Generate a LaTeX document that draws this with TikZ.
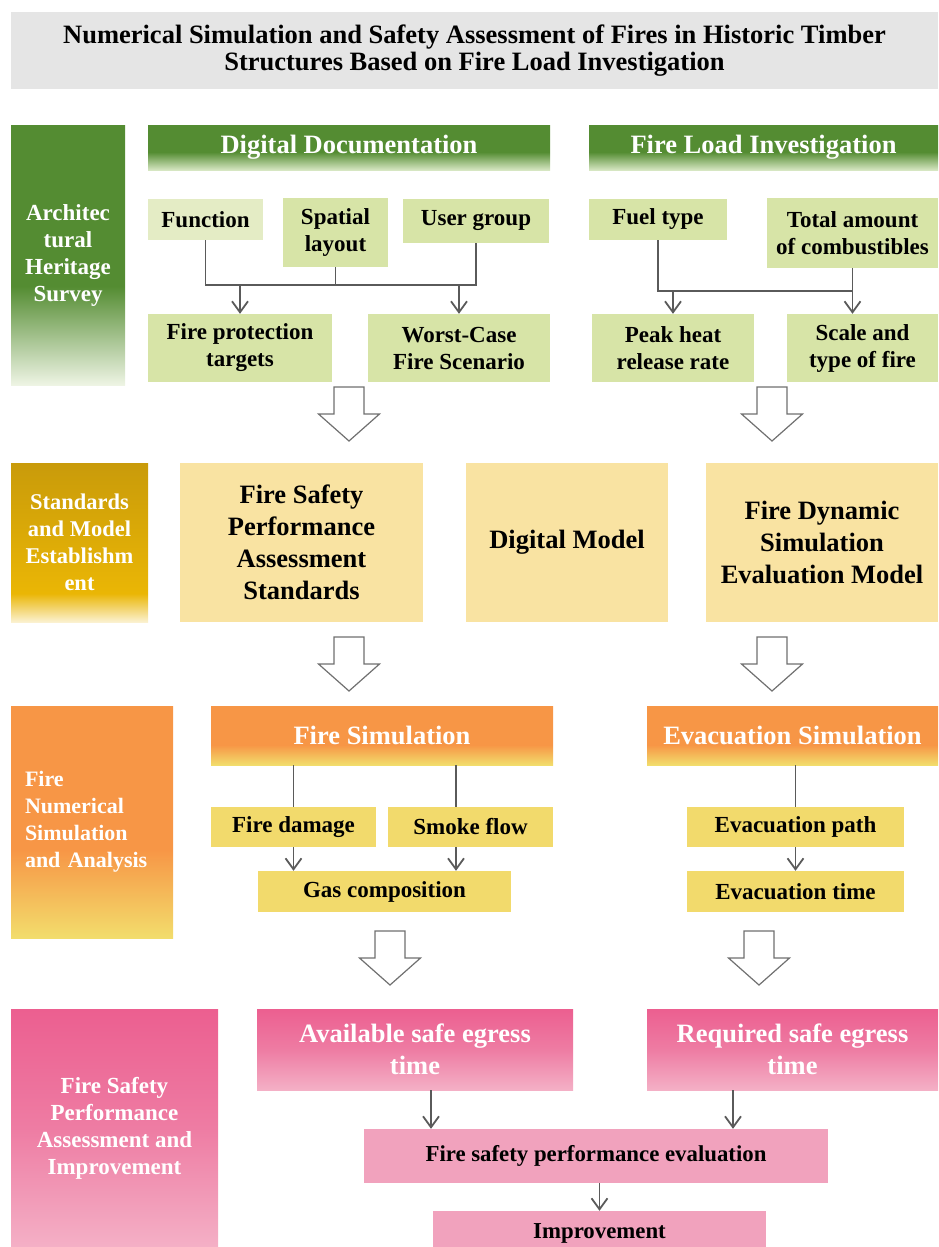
\documentclass[tikz,border=0pt]{standalone}
\usepackage{fontspec}
\setmainfont{Liberation Serif}
\usetikzlibrary{arrows.meta}
\definecolor{titlegray}{HTML}{E5E5E5}
\definecolor{gdark}{HTML}{548C32}
\definecolor{glow}{HTML}{EEF4E4}
\definecolor{gbarlow}{HTML}{D6E6C2}
\definecolor{gbox}{HTML}{D7E4A7}
\definecolor{gboxlight}{HTML}{E4ECC5}
\definecolor{golddark}{HTML}{C99B0A}
\definecolor{goldmid}{HTML}{EAB605}
\definecolor{goldlow}{HTML}{FBF1D0}
\definecolor{goldbox}{HTML}{F9E3A2}
\definecolor{orange}{HTML}{F79646}
\definecolor{orangelow}{HTML}{F2DD6C}
\definecolor{ybox}{HTML}{F2DA6C}
\definecolor{pinkdark}{HTML}{EC5F90}
\definecolor{pinkmid}{HTML}{EE7CA3}
\definecolor{pinklow}{HTML}{F4B0C6}
\definecolor{pinkbox}{HTML}{F1A2BD}
\definecolor{linegray}{HTML}{5A5A5A}
\definecolor{arrowgray}{HTML}{707070}

\pgfdeclareverticalshading{greenlabel}{100bp}{color(0bp)=(glow); color(25bp)=(glow); color(44bp)=(gdark); color(100bp)=(gdark)}
\pgfdeclareverticalshading{greenbar}{100bp}{color(0bp)=(gbarlow); color(25bp)=(gbarlow); color(45bp)=(gdark); color(100bp)=(gdark)}
\pgfdeclareverticalshading{goldlabel}{100bp}{color(0bp)=(goldlow); color(25bp)=(goldlow); color(34bp)=(goldmid); color(75bp)=(golddark); color(100bp)=(golddark)}
\pgfdeclareverticalshading{orangelabel}{100bp}{color(0bp)=(orangelow); color(25bp)=(orangelow); color(44bp)=(orange); color(100bp)=(orange)}
\pgfdeclareverticalshading{orangebar}{100bp}{color(0bp)=(orangelow); color(25bp)=(orangelow); color(42bp)=(orange); color(100bp)=(orange)}
\pgfdeclareverticalshading{pinklabel}{100bp}{color(0bp)=(pinklow); color(25bp)=(pinklow); color(50bp)=(pinkmid); color(75bp)=(pinkdark); color(100bp)=(pinkdark)}

\tikzset{
	wh/.style 2 args = {minimum width=#1pt, minimum height=#2pt},
	basebox/.style   = {shape=rectangle, inner sep=0pt, align=center,
		font=\fontsize{23}{27}\selectfont\bfseries},
	titlebar/.style  = {basebox, fill=titlegray, font=\fontsize{26.5}{27}\selectfont\bfseries},
	stagelabel/.style = {basebox, text=white, font=\fontsize{23}{27}\selectfont\bfseries},
	greenhead/.style = {basebox, text=white, shading=greenbar,
		font=\fontsize{26.5}{28}\selectfont\bfseries},
	orangehead/.style = {basebox, text=white, shading=orangebar,
		font=\fontsize{26.5}{28}\selectfont\bfseries},
	pinkhead/.style  = {basebox, text=white, shading=pinklabel,
		font=\fontsize{26.5}{32}\selectfont\bfseries},
	greenbox/.style  = {basebox, fill=gbox},
	goldbox/.style   = {basebox, fill=goldbox, font=\fontsize{26.5}{32}\selectfont\bfseries},
	yellowbox/.style = {basebox, fill=ybox},
	pinkbox/.style   = {basebox, fill=pinkbox},
	link/.style      = {draw=linegray, line width=1.8pt},
	arr/.style       = {link, -{Straight Barb[length=11pt,width=16pt]}},
	hollow/.pic      = {\draw[draw=arrowgray, line width=1.2pt, fill=white, line join=miter]
		(-15,0) -- (15,0) -- (15,27) -- (30.5,27) -- (0,54) -- (-30.5,27) -- (-15,27) -- cycle;}
}

\begin{document}
\begin{tikzpicture}[x=1pt, y=-1pt]
\useasboundingbox (0,0) rectangle (938,1247);
% title
\node [titlebar, wh={927}{77}] (title) at (474.5,50.5)
	{Numerical Simulation and Safety Assessment of Fires in Historic Timber\\Structures Based on Fire Load Investigation};

% stage labels on the left
\node [stagelabel, shading=greenlabel, wh={114}{260}] (survey) at (68,255) {Architec\\tural\\Heritage\\Survey};
\node [stagelabel, shading=goldlabel, wh={137}{159}, font=\fontsize{22.5}{27}\selectfont\bfseries] (modellabel) at (79.5,542.5)
	{Standards\\and Model\\Establishm\\ent};
\node [stagelabel, shading=orangelabel, wh={162}{232}, text width=134pt, inner xsep=14pt, align=left,
	font=\fontsize{22}{27}\selectfont\bfseries] (simlabel) at (92,822)
	{Fire\\Numerical\\Simulation\\and Analysis};
\node [stagelabel, shading=pinklabel, wh={207}{238}] (assesslabel) at (114.5,1128)
	{Fire Safety\\Performance\\Assessment and\\Improvement};

% architectural heritage survey
\node [greenhead, wh={402}{45}] (digdoc) at (349,147.5) {Digital Documentation};
\node [greenhead, wh={349}{45}] (fireload) at (763.5,147.5) {Fire Load Investigation};
\node [greenbox, fill=gboxlight, wh={115}{41}] (function) at (205.5,219.5) {Function};
\node [greenbox, wh={105}{69}] (spatial) at (335.5,232.5) {Spatial\\layout};
\node [greenbox, wh={146}{44}] (usergroup) at (476,221) {User group};
\node [greenbox, wh={138}{41}] (fueltype) at (658,219.5) {Fuel type};
\node [greenbox, wh={171}{70}] (combust) at (852.5,233) {Total amount\\of combustibles};
\node [greenbox, wh={184}{68}] (protect) at (240,348) {Fire protection\\targets};
\node [greenbox, wh={182}{68}] (worst) at (459,348) {Worst-Case\\Fire Scenario};
\node [greenbox, wh={162}{68}] (peak) at (673,348) {Peak heat\\release rate};
\node [greenbox, wh={151}{68}] (scale) at (862.5,348) {Scale and\\type of fire};

\coordinate (docjoin) at (335.5,285);
\coordinate (loadjoin) at (760,291);
\draw [link] (function.south) |- (docjoin) -| (usergroup.south);
\draw [link] (spatial.south) -- (docjoin);
\draw [arr] (protect.north |- docjoin) -- (protect.north);
\draw [arr] (worst.north |- docjoin) -- (worst.north);
\draw [link] (fueltype.south) |- (loadjoin) -| (combust.south);
\draw [arr] (peak.north |- loadjoin) -- (peak.north);
\draw [arr] (combust.south) -- (combust.south |- scale.north);

\pic at (349,387) {hollow};
\pic at (772,387) {hollow};

% standards and model establishment
\node [goldbox, wh={243}{159}] (standards) at (301.5,542.5) {Fire Safety\\Performance\\Assessment\\Standards};
\node [goldbox, wh={202}{159}] (digmodel) at (567,542.5) {Digital Model};
\node [goldbox, wh={232}{159}] (fdsmodel) at (822,542.5) {Fire Dynamic\\Simulation\\Evaluation Model};

\pic at (349,637) {hollow};
\pic at (772,637) {hollow};

% fire numerical simulation
\node [orangehead, wh={342}{59}] (firesim) at (382,735.5) {Fire Simulation};
\node [orangehead, wh={291}{59}] (evacsim) at (792.5,735.5) {Evacuation Simulation};
\node [yellowbox, wh={165}{40}] (damage) at (293.5,827) {Fire damage};
\node [yellowbox, wh={165}{40}] (smoke) at (470.5,827) {Smoke flow};
\node [yellowbox, wh={253}{41}] (gas) at (384.5,891.5) {Gas composition};
\node [yellowbox, wh={217}{40}] (evpath) at (795.5,827) {Evacuation path};
\node [yellowbox, wh={217}{41}] (evtime) at (795.5,891.5) {Evacuation time};

\draw [link] (firesim.south -| damage.north) -- (damage.north);
\draw [link] ([xshift=-14.5pt]smoke.north |- firesim.south) -- ([xshift=-14.5pt]smoke.north);
\draw [arr] (damage.south) -- (damage.south |- gas.north);
\draw [arr] ([xshift=-14.5pt]smoke.south) -- ([xshift=-14.5pt]smoke.south |- gas.north);
\draw [link] (evacsim.south -| evpath.north) -- (evpath.north);
\draw [arr] (evpath.south) -- (evtime.north);

\pic at (390,931) {hollow};
\pic at (759,931) {hollow};

% fire safety performance assessment
\node [pinkhead, wh={316}{81}] (avail) at (415,1049.5) {Available safe egress\\time};
\node [pinkhead, wh={291}{81}] (required) at (792.5,1049.5) {Required safe egress\\time};
\node [pinkbox, wh={464}{54}, font=\fontsize{22.8}{27}\selectfont\bfseries] (evaluation) at (596,1156)
	{Fire safety performance evaluation};
\node [pinkbox, wh={333}{44}, font=\fontsize{22.8}{27}\selectfont\bfseries] (improve) at (599.5,1233) {Improvement};

\draw [arr] ([xshift=16pt]avail.south) -- ([xshift=16pt]avail.south |- evaluation.north);
\draw [arr] ([xshift=-59.5pt]required.south) -- ([xshift=-59.5pt]required.south |- evaluation.north);
\draw [arr] (evaluation.south -| improve.north) -- (improve.north);
\end{tikzpicture}
\end{document}
